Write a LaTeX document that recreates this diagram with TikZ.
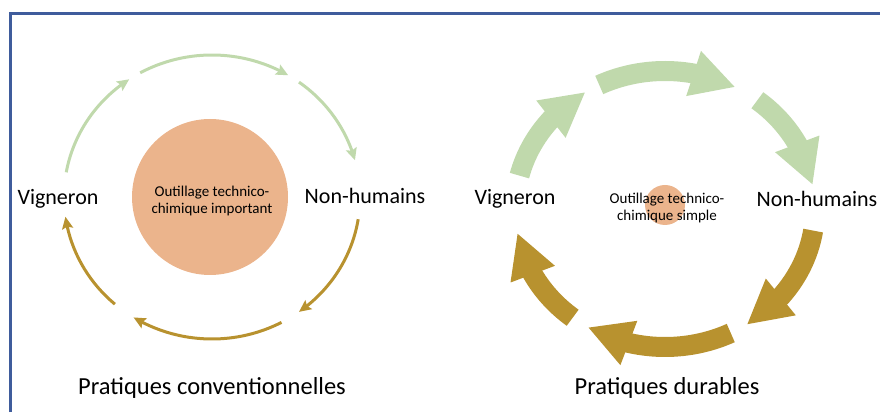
\documentclass[tikz,border=0pt]{standalone}
\usepackage{fontspec}
\setmainfont{Carlito}
\usepackage{xcolor}
\usetikzlibrary{arrows.meta,bending}

\definecolor{ringgreen}{HTML}{C0D9AC}
\definecolor{ringgold}{HTML}{B8922F}
\definecolor{toolorange}{HTML}{EBB48C}
\definecolor{frameblue}{HTML}{3F5C9C}

\tikzset{
  thinarrow/.style={line width=3pt, -{Stealth[length=12pt,width=11pt,inset=2pt,flex]}},
  thickarrow/.style={line width=20pt, -{Triangle[length=44pt,width=44pt,flex]}},
  actor/.style={font=\fontsize{22}{26}\selectfont},
  tool/.style={font=\fontsize{15}{17}\selectfont, align=center},
  caption/.style={font=\fontsize{24.5}{29}\selectfont}
}

\begin{document}
\begin{tikzpicture}[x=1pt, y=1pt]
            \useasboundingbox (0,0) rectangle (880,412);
            \draw[frameblue, line width=3pt] (10.5,0) -- (10.5,398.5) -- (880,398.5);

            % conventionnelles
            \coordinate (cl) at (212,215);
            \fill[toolorange] (210,215) circle [radius=78pt];
            \node[tool] (toolL) at (212,211) {Outillage technico-\\chimique important};
            \node[actor] (vignL) at (58,213) {Vigneron};
            \node[actor] (nonhL) at (365,216) {Non-humains};
            \node[caption] (capL) at (212,24) {Pratiques conventionnelles};
            \foreach \s/\e/\c in {170/124/ringgreen, 119/59/ringgreen, 54/15/ringgreen,
                                  -9/-54/ringgold, -62/-122/ringgold, -131/-172/ringgold}
              \draw[thinarrow, \c] (cl) ++(\s:148pt and 142pt)
                arc[start angle=\s, end angle=\e, x radius=148pt, y radius=142pt];

            % durables
            \coordinate (cr) at (665,203);
            \fill[toolorange] (665,207) circle [radius=20pt];
            \node[tool] (toolR) at (667,204) {Outillage technico-\\chimique simple};
            \node[actor] (vignR) at (515,213) {Vigneron};
            \node[actor] (nonhR) at (817,213) {Non-humains};
            \node[caption] (capR) at (667,24) {Pratiques durables};
            \foreach \s/\e/\c in {166/122/ringgreen, 116/62/ringgreen, 52/10/ringgreen,
                                  -9/-57/ringgold, -64/-121/ringgold, -128/-170/ringgold}
              \draw[thickarrow, \c] (cr) ++(\s:150pt and 138pt)
                arc[start angle=\s, end angle=\e, x radius=150pt, y radius=138pt];

        \end{tikzpicture}
\end{document}
